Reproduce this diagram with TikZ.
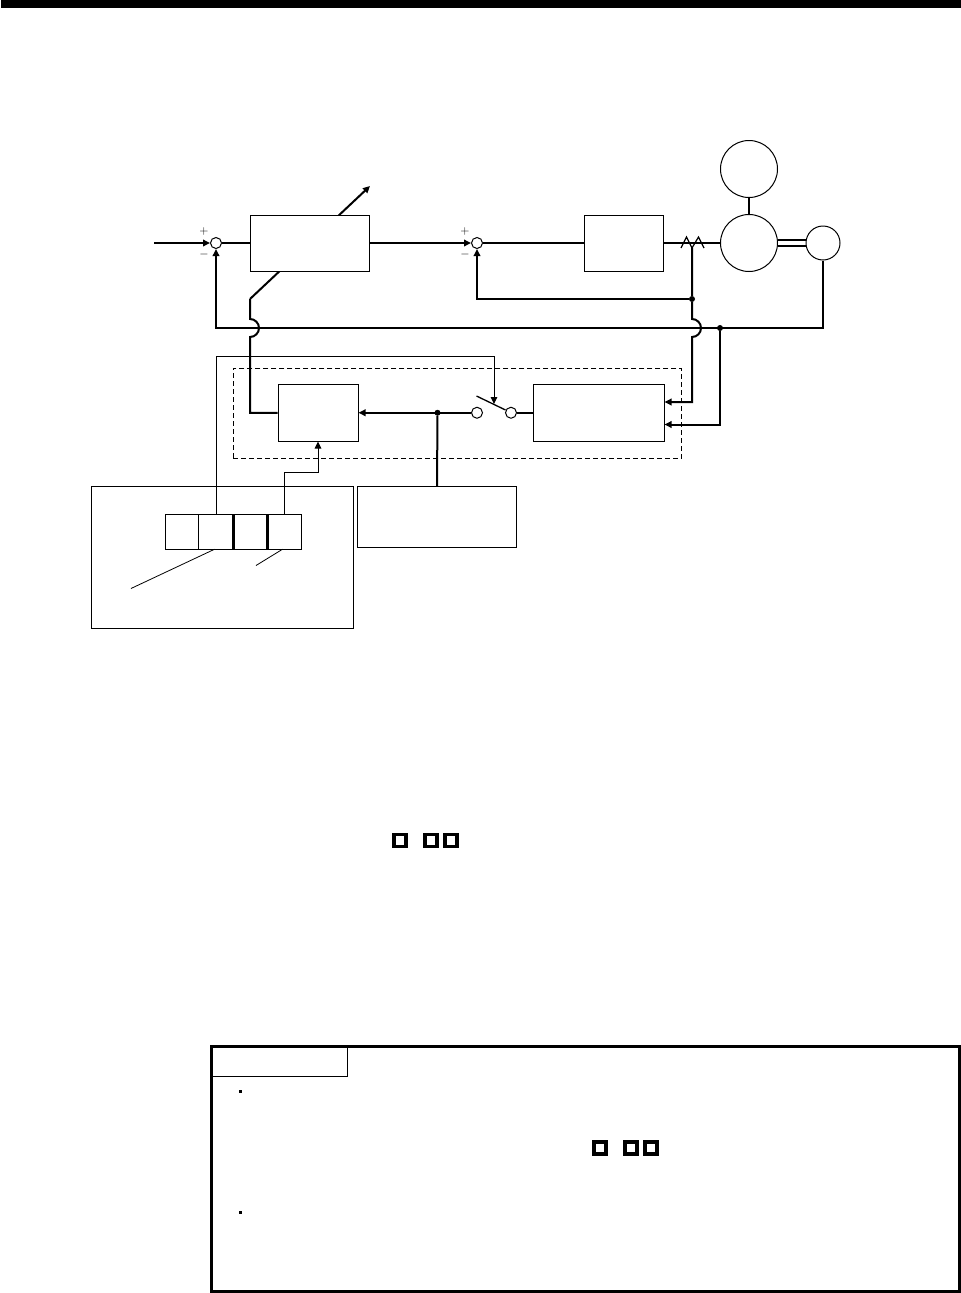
\documentclass[tikz,border=0pt]{standalone}
\usetikzlibrary{arrows.meta}
\tikzset{
  block/.style={draw, rectangle, line width=1pt, fill=white, inner sep=0pt},
  ring/.style={draw, circle, line width=1pt, fill=white, inner sep=0pt},
  dot/.style={fill=black, circle, inner sep=0pt, minimum size=6pt},
  sig/.style={line width=2pt},
  thin sig/.style={line width=1pt},
  tip/.style={-{Triangle[length=7pt,width=6.5pt]}},
  sign/.style={inner sep=0pt, font=\fontsize{12}{12}\selectfont},
  mark box/.style={draw, rectangle, line width=3.5pt, inner sep=0pt, minimum size=12pt},
  bullet box/.style={fill=black, rectangle, inner sep=0pt, minimum size=3pt}
}
\begin{document}
\begin{tikzpicture}[x=1pt,y=-1pt]
\useasboundingbox (0,0) rectangle (961,1293);
\node[fill=black, rectangle, inner sep=0pt, minimum width=960pt, minimum height=8pt] (bar) at (481,4) {};
% speed loop
\coordinate (in) at (154,243);
\coordinate (gainlow) at (250,299);
\coordinate (gaintip) at (370,186);
\draw[sig,tip] (gainlow) -- (gaintip);
\node[block, minimum width=119pt, minimum height=56pt] (gain) at (309.5,243) {};
\node[block, minimum width=79.5pt, minimum height=56pt] (amp) at (624,243) {};
\node[ring, minimum size=11pt] (sumA) at (216,243) {};
\node[ring, minimum size=11pt] (sumB) at (477,243) {};
\node[sign] (plusA) at (204,231) {$+$};
\node[sign] (minusA) at (204,254) {$-$};
\node[sign] (plusB) at (465,231) {$+$};
\node[sign] (minusB) at (465,254) {$-$};
\node[ring, minimum size=57pt] (fan) at (749,169) {};
\node[ring, minimum size=57pt] (motor) at (749,243) {};
\node[ring, minimum size=34pt] (enc) at (823,243) {};
\draw[sig,tip] (in) -- (sumA.west);
\draw[sig] (sumA) -- (gain);
\draw[sig,tip] (gain) -- (sumB.west);
\draw[sig] (sumB) -- (amp);
\draw[sig] (amp) -- (motor);
\draw[sig] (fan) -- (motor);
\draw[line width=1.5pt] ([yshift=-3pt]motor.east) -- ([yshift=-3pt]enc.west);
\draw[line width=1.5pt] ([yshift=3pt]motor.east) -- ([yshift=3pt]enc.west);
% current sensor
\coordinate (senseA) at (681,248);
\coordinate (sense) at (692,248);
\coordinate (senseB) at (704,248);
\draw[line width=1.2pt] (senseA) -- (686.5,237) -- (sense) -- (698.5,237) -- (senseB);
% lower blocks
\node[block, minimum width=80pt, minimum height=56.5pt] (filt) at (318,412.75) {};
\node[block, minimum width=131pt, minimum height=56.5pt] (est) at (598.5,412.75) {};
\node[block, minimum width=159pt, minimum height=61pt] (para) at (437,517) {};
\node[draw, rectangle, line width=1pt, dashed, dash pattern=on 5pt off 3pt, inner sep=0pt, minimum width=448.5pt, minimum height=90pt] (frame) at (457.5,413.3) {};
\node[block, minimum width=262pt, minimum height=142pt] (panel) at (222,557.3) {};
\node[block, minimum width=34pt, minimum height=34.5pt] (cellA) at (182,532) {};
\node[block, minimum width=34.5pt, minimum height=34.5pt] (cellB) at (216,532) {};
\node[block, minimum width=34.5pt, minimum height=34.5pt] (cellC) at (250,532) {};
\node[block, minimum width=34.5pt, minimum height=34.5pt] (cellD) at (284,532) {};
\draw[sig] (cellB.north east) -- (cellB.south east);
\draw[sig] (cellC.north east) -- (cellC.south east);
% feedback
\node[dot] (jctB) at (692,299) {};
\node[dot] (jctA) at (720,328) {};
\draw[sig,tip] (enc.south) -- (823,328) -- (216,328) -- (sumA.south);
\draw[sig,tip] (jctB) -- (477,299) -- (sumB.south);
\draw[sig,tip] (sense) -- (jctB) -- (692,319) arc[start angle=-90,end angle=90,radius=9] -- (692,402) -- (est.east |- 0,402);
\draw[sig,tip] (jctA) -- (720,424.5) -- (est.east |- 0,424.5);
\draw[sig] (gainlow) -- (250,319) arc[start angle=-90,end angle=90,radius=9] -- (250,412.75) -- (filt.west);
% switch
\node[ring, minimum size=11pt] (contA) at (477,412.75) {};
\node[ring, minimum size=11pt] (contB) at (511,412.75) {};
\node[dot] (jctC) at (437.5,412.75) {};
\coordinate (leverA) at (476.5,396);
\coordinate (leverB) at (505.5,410);
\draw[line width=1.3pt] (leverA) -- (leverB);
\draw[sig] (est) -- (contB);
\draw[sig,tip] (contA) -- (filt.east);
\draw[sig] (jctC) -- (para.north);
% thin lines from parameter cells
\draw[thin sig,tip] (cellB.north) -- (216,356) -- (494,356) -- (494,404);
\draw[thin sig,tip] (cellD.north) -- (284,472.5) -- (318,472.5) -- (filt.south);
\coordinate (leadA) at (131,588.5);
\coordinate (leadB) at (256,565.5);
\draw[line width=0.8pt] (214.5,549.25) -- (leadA);
\draw[line width=0.8pt] (282.5,549.25) -- (leadB);
% marks in text
\node[mark box] (mA) at (400,840.7) {};
\node[mark box] (mB) at (431,840.7) {};
\node[mark box] (mC) at (451,840.7) {};
% point box
\node[draw, rectangle, line width=3pt, inner sep=0pt, minimum width=747.5pt, minimum height=244.5pt] (point) at (585.25,1168.75) {};
\coordinate (tabA) at (347.5,1046.5);
\coordinate (tabB) at (211.5,1076.5);
\draw[line width=1.3pt] (tabA) -- (tabA |- tabB) -- (tabB);
\node[bullet box] (bulA) at (240.5,1091.5) {};
\node[bullet box] (bulB) at (240.5,1212.5) {};
\node[mark box] (mD) at (600,1148) {};
\node[mark box] (mE) at (631,1148) {};
\node[mark box] (mF) at (651,1148) {};
\end{tikzpicture}
\end{document}
